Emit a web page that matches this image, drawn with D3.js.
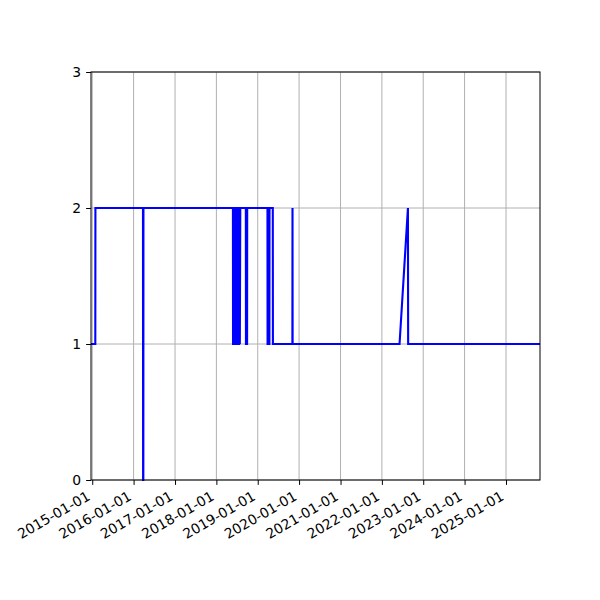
<!DOCTYPE html>
<html>
<head>
<meta charset="utf-8">
<script src="https://cdn.jsdelivr.net/npm/d3@7"></script>
<style>
    body { margin: 0; background: #fff; }
    svg { display: block; }
    svg text { font-family: "DejaVu Sans", sans-serif; font-size: 13.9px; fill: #000; }
</style>
</head>
<body>
<svg id="chart" width="600" height="600"></svg>
<script>

// series
var dates = [
    '2014-12-21', '2015-01-28', '2015-01-29',
    '2016-03-24', '2016-03-25', '2016-03-27', '2016-03-28',
    '2018-05-27', '2018-05-28', '2018-06-01', '2018-06-02', '2018-06-06', '2018-06-07',
    '2018-06-11', '2018-06-12', '2018-06-16', '2018-06-17', '2018-06-21', '2018-06-22',
    '2018-06-26', '2018-06-27', '2018-07-01', '2018-07-02', '2018-07-06', '2018-07-07',
    '2018-07-11', '2018-07-12', '2018-07-16', '2018-07-17', '2018-07-21', '2018-07-22',
    '2018-07-26', '2018-07-27', '2018-07-31',
    '2018-09-18', '2018-09-19', '2018-09-29', '2018-09-30',
    '2019-03-28', '2019-03-29', '2019-04-14', '2019-04-15', '2019-05-14', '2019-05-15',
    '2019-11-03', '2019-11-04', '2019-11-05',
    '2022-06-06', '2022-08-19', '2022-08-21',
    '2025-10-28'
];
var values = [
    1, 1, 2,
    2, 0, 0, 2,
    2, 1, 1, 2, 2, 1,
    1, 2, 2, 1, 1, 2,
    2, 1, 1, 2, 2, 1,
    1, 2, 2, 1, 1, 2,
    2, 1, 2,
    2, 1, 1, 2,
    2, 1, 1, 2, 2, 1,
    1, 2, 1,
    1, 2, 1,
    1
];

var xDomain = ['2014-12-21', '2025-10-28'];
var yTicks = [0, 1, 2, 3];
var xTickLabels = [
    '2015-01-01', '2016-01-01', '2017-01-01', '2018-01-01', '2019-01-01', '2020-01-01',
    '2021-01-01', '2022-01-01', '2023-01-01', '2024-01-01', '2025-01-01'
];

var parseDate = d3.timeParse('%Y-%m-%d');

var margin = { top: 72, right: 60, bottom: 120, left: 91 };
var width = 600 - margin.left - margin.right;
var height = 600 - margin.top - margin.bottom;

var svg = d3.select('#chart');
var g = svg.append('g')
    .attr('transform', 'translate(' + margin.left + ',' + margin.top + ')');

var x = d3.scaleTime()
    .domain(xDomain.map(parseDate))
    .range([0, width]);

var y = d3.scaleLinear()
    .domain([0, 3])
    .range([height, 0]);

var tickDates = xTickLabels.map(parseDate);

// grid first so it sits under the line
g.append('g')
    .selectAll('line.vgrid')
    .data(tickDates)
    .enter().append('line')
    .attr('x1', function (d) { return x(d); })
    .attr('x2', function (d) { return x(d); })
    .attr('y1', 0)
    .attr('y2', height)
    .attr('stroke', '#b0b0b0')
    .attr('stroke-width', 1);

g.append('g')
    .selectAll('line.hgrid')
    .data(yTicks)
    .enter().append('line')
    .attr('x1', 0)
    .attr('x2', width)
    .attr('y1', function (d) { return y(d); })
    .attr('y2', function (d) { return y(d); })
    .attr('stroke', '#b0b0b0')
    .attr('stroke-width', 1);

var points = dates.map(function (d, i) {
    return { date: parseDate(d), value: values[i] };
});

var line = d3.line()
    .x(function (d) { return x(d.date); })
    .y(function (d) { return y(d.value); });

g.append('path')
    .datum(points)
    .attr('d', line)
    .attr('fill', 'none')
    .attr('stroke', '#0000ff')
    .attr('stroke-width', 2.1)
    .attr('stroke-linejoin', 'miter');

// axes
var xAxis = d3.axisBottom(x)
    .tickValues(tickDates)
    .tickSize(4.9)
    .tickPadding(4.9)
    .tickFormat(d3.timeFormat('%Y-%m-%d'));

var gx = g.append('g')
    .attr('transform', 'translate(0,' + height + ')')
    .call(xAxis);

gx.attr('font-family', null).attr('font-size', null);
gx.select('.domain').remove();
gx.selectAll('line').attr('stroke', '#000').attr('stroke-width', 1);

// I rotate the labels like matplotlib autofmt_xdate (right end tucked under the tick)
gx.selectAll('text')
    .attr('text-anchor', 'end')
    .attr('x', 0)
    .attr('y', 0)
    .attr('dy', 0)
    .attr('transform', 'translate(-1.7,19) rotate(-30)');

var yAxis = d3.axisLeft(y)
    .tickValues(yTicks)
    .tickSize(4.9)
    .tickPadding(4.9)
    .tickFormat(d3.format('d'));

var gy = g.append('g').call(yAxis);
gy.attr('font-family', null).attr('font-size', null);
gy.select('.domain').remove();
gy.selectAll('line').attr('stroke', '#000').attr('stroke-width', 1);

// frame
g.append('rect')
    .attr('x', 0)
    .attr('y', 0)
    .attr('width', width)
    .attr('height', height)
    .attr('fill', 'none')
    .attr('stroke', '#000')
    .attr('stroke-width', 1);

</script>
</body>
</html>
